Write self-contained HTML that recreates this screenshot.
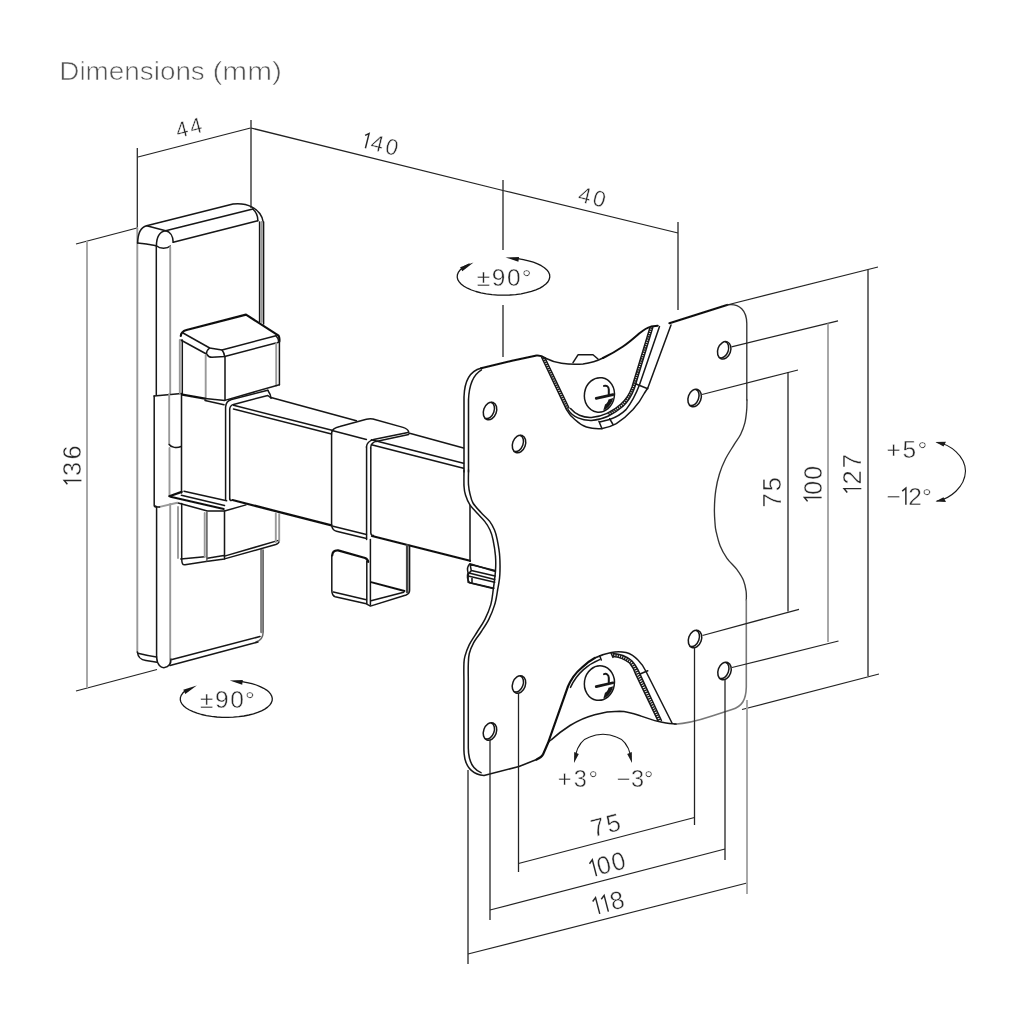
<!DOCTYPE html>
<html><head><meta charset="utf-8">
<style>
html,body{margin:0;padding:0;background:#fff;}
body{width:1024px;height:1024px;overflow:hidden;font-family:"Liberation Sans",sans-serif;}
svg{display:block;}
.k{stroke:#151515;stroke-width:1.5;fill:none;stroke-linecap:round;stroke-linejoin:round;}
.t{stroke:#111;stroke-width:2.2;fill:none;stroke-linecap:round;stroke-linejoin:round;}
.g{stroke:#999;stroke-width:1.9;fill:none;stroke-linecap:round;}
.d{stroke:#222;stroke-width:1.25;fill:none;}
.dg{stroke:#a4a4a4;stroke-width:1.9;fill:none;}
.w{fill:#fff;}
text{font-family:"Liberation Sans",sans-serif;fill:#262626;stroke:#fff;stroke-width:0.45px;}
.n{font-size:22px;text-anchor:middle;letter-spacing:1px;}
</style></head><body>
<svg width="1024" height="1024" viewBox="0 0 1024 1024">
<defs><filter id="bl" x="0" y="0" width="1024" height="1024" filterUnits="userSpaceOnUse"><feGaussianBlur stdDeviation="0.45"/></filter></defs>
<rect width="1024" height="1024" fill="#fff"/>
<g filter="url(#bl)">
<g id="title">
<text x="59.3" y="79.8" font-size="25" style="fill:#525252;stroke-width:0.6px" textLength="145.5" lengthAdjust="spacingAndGlyphs">Dimensions</text>
<text x="212.4" y="79.8" font-size="25" style="fill:#525252;stroke-width:0.6px" textLength="69.5" lengthAdjust="spacingAndGlyphs">(mm)</text>
</g>
<g id="dims-top">
<path class="d" d="M138 157L250.5 128M251 128L503 190.5M503 190.5L678 233"/>
<path class="d" d="M137.3 148V228M251 120V208M503 180V250M503 305V357M678 222V310"/>
</g>
<g id="dims-left">
<path class="d" d="M76 244L137 228M76 691L157 669.5"/>
<path class="dg" d="M87 241V688"/>
</g>
<g id="wallplate">
<path class="g" d="M137.3 228V652"/>
<path class="k" d="M137.6 243C138 232 141 227 146.6 225.7L233 204.1C246 202.5 261 208 263.2 222"/>
<path class="k" d="M146.6 225.7L165.7 230.7L252.9 209"/>
<path class="k" d="M173.2 242.3L257.8 220.7"/>
<path class="k" d="M252.9 209C256 212 258 216 257.8 220.7"/>
<path class="k" d="M156.4 246C156.5 237 160 231.5 165.7 230.7C170 231.5 173 236 173.2 242.3"/>
<path class="k" d="M137.6 243C144 243.5 150 244.5 156.4 245.8C160 249 167 249 170.3 246"/>
<path class="k" d="M156.3 246V395"/>
<path class="g" d="M170.2 247V393"/>
<path class="k" d="M259.6 222V322"/>
<path class="g" d="M261.6 222V322" style="stroke-width:2"/>
<path class="k" d="M263.6 222V324"/>
<!-- collar -->
<path class="k" d="M154 396L181.5 393.6"/>
<path class="k" d="M154.2 396V505.5C154.5 507 155.5 507.2 156.5 506.6"/>
<path class="g" d="M169.2 394V444"/>
<path class="k" d="M169.2 444.5C171 447.5 177 448.5 181 446.5"/>
<path class="k" d="M181.5 394V493"/>
<path class="g" d="M169.5 448V496"/>
<!-- lower -->
<path class="k" d="M156.6 507V657"/>
<path class="g" d="M170.2 504V663"/>
<path class="g" d="M261.4 550V632" style="stroke-width:2.6;stroke:#808080"/>
<path class="k" d="M263.2 550V632C263 638 260 641 256 642" style="stroke:#666"/>
<path class="k" d="M137.4 652C138 658 141 659.8 146 660.6L157 662.2"/>
<path class="k" d="M156.6 657C157 665 161 668 164.5 667.6C168.5 667 171 664 171 659"/>
<path class="k" d="M137.8 653.2C144 654.7 150 656 156.5 657"/>
<path class="k" d="M172 659.6L260 636.5"/>
<path class="k" d="M170 665.5L258 642"/>
</g>
<g id="block">
<!-- top face -->
<path class="t" d="M180.8 336C181 332.5 183 331 186.5 330L246 314.6L278.6 335.7C279.6 337.5 279.6 339.5 279.4 341.5"/>
<path class="k" d="M183 333L209.7 348L222 350L276 335.7"/>
<path class="k" d="M180.8 340L206.4 354C208 356.5 210 357.3 212 357.3L224.6 356.5L278.8 342.3"/>
<path class="k" d="M209.7 348C207.5 349.5 206.5 351.5 206.4 354"/>
<path class="k" d="M222 350C223.6 352 224.5 354 224.6 356.5"/>
<path class="k" d="M276 335.7C277.8 337.5 278.8 339.5 278.8 342.3"/>
<!-- verticals -->
<path class="g" d="M179.8 340V393"/>
<path class="k" d="M182.3 340V394.6"/>
<path class="g" d="M205.7 355V400"/>
<path class="k" d="M225 357V400"/>
<path class="g" d="M276.2 343V385.5"/>
<path class="k" d="M279.4 342V384.7"/>
<!-- bottom -->
<path class="t" d="M182.3 394.6L205 398.6"/>
<path class="k" d="M205 398.6L224.8 400.4L279.4 384.7"/>
<path class="k" d="M205 400.5L224 404.8"/>
</g>
<g id="arm">
<!-- wall-end wrap -->
<path class="k" d="M225.6 500V407C226 402.5 228 400.5 231.5 399.6L267.8 390.3"/>
<path class="k" d="M229.7 499V409C230 406 231.5 405 233.5 404.4L267.8 395.5L271 398"/>
<path class="k" d="M267.8 390.3C269 392 270.5 394 271 398"/>
<!-- arm top lines -->
<path class="k" d="M271 397.5L356.4 420.7M408.7 433L463.5 448"/>
<path class="k" d="M233.5 405.2L332 430.3M371.4 439.8L463.5 463.2"/>
<path class="k" d="M233.5 409L331.5 434M371.4 444.8L463.5 468.2"/>
<!-- arm bottom edge -->
<path class="t" d="M232.5 500L331.5 525.4M372 536L470 560.8"/>
<path class="k" d="M229.7 499C230 500.5 231 501 232.5 500"/>
<!-- sleeve -->
<path class="k" d="M332 430.4L366.4 439.4"/>
<path class="k" d="M331.6 433C331.7 430 333.5 428 339.8 426.5L366.4 419.2C369 418.6 371 418.6 373 419L403 427.4C406.5 428.5 408.3 430 408.7 432"/>
<path class="k" d="M408 432.6L373.5 439.6C369 440.8 366.7 443 366.4 447"/>
<path class="k" d="M408.7 434.6L376 441.4C372.5 442.4 370.8 444.5 370.6 448"/>
<path class="k" d="M331.6 433V525C332 528.5 333.5 530.5 336.5 531.3L366.4 538.6"/>
<path class="k" d="M333 526.2L366.4 534.6"/>
<path class="k" d="M366.6 447V539.5"/>
<path class="k" d="M370.8 448V533C371 535 372 535.6 373.5 535.6"/>
<!-- lower block under arm at wall -->
<path class="k" d="M184 491.2L226.6 500.8"/>
<path class="t" d="M169.3 496.2L181.7 491.9"/>
<path class="t" d="M170.5 496.7L223.8 509" style="stroke-width:1.9"/>
<path class="k" d="M181.4 495.3L224.5 505.5"/>
<path class="k" d="M177.3 502.8L207.4 511L224.5 511L246 504.9"/>
<path class="g" d="M159.6 506.9L177.3 502.8" style="stroke-width:2"/>
<path class="k" d="M155.4 506C156.5 507.3 158 507.3 159.6 506.9"/>
<path class="g" d="M178 507V558"/>
<path class="k" d="M181.7 503.5V558.9C181.8 563 182.6 565.2 185 564.8L206 561.6L224.5 558.9L275.8 544.5C278 543.8 279 542.6 279.2 541"/>
<path class="k" d="M180.8 558.9L204.7 556.8M207.4 558.2L223.8 555.5M224.5 556.1L278.5 540.4"/>
<path class="g" d="M204.7 513V557"/>
<path class="k" d="M206.9 512V561" style="stroke:#555"/>
<path class="k" d="M224.5 511V558.9"/>
<path class="g" d="M275.8 513.5V542"/>
<path class="g" d="M279.2 514V541"/>
</g>
<g id="hook">
<path class="t" d="M332.2 555.5C332.4 552 334.5 550.2 338.1 550.4L365.1 558C367 558.8 368 560 368.2 561.8"/>
<path class="k" d="M331.8 555.5V590.9C332 594 333 596 335.2 596.7L366.3 603.8L370.4 606.1L406.1 595C408.3 594.2 409.5 592.6 409.6 590.5V545.6"/>
<path class="k" d="M333.4 592L366.3 599.7"/>
<path class="k" d="M366.8 561V603.5"/>
<path class="k" d="M370.4 539.5V605"/>
<path class="k" d="M371 600.8L403.8 592.3"/>
<path class="t" style="stroke-width:1.9" d="M371 582.1L404.5 591"/>
<path class="k" style="stroke:#444;stroke-width:2.6" d="M407.2 545.4V592"/>
</g>
<g id="plate">
<!-- outer outline -->
<path class="k" d="M464 472V397C464.500 380 470 371 481 368.300"/>
<path class="t" style="stroke-width:2" d="M481 368.3L512 360.8L536.6 355.6C540 355.4 543 356.5 545 358"/>
<path class="k" d="M545 358C551 361 556 362.500 561.500 363.200C568 364.300 576 364.600 583 364C590 363 597 361 603 358"/>
<path class="t" style="stroke-width:2" d="M603 358C610 354.600 617 350.600 623 346.500C629 342.500 634 338 639.500 333.200C644 329.500 647.500 327.600 651 326.600L657.800 325.700"/>
<path class="t" d="M669.4 323.2L727 305"/>
<path class="k" style="stroke:#333;stroke-width:1.35" d="M727 305C740 303 746.6 311 746.8 323.5V400"/>
<path class="k" style="stroke:#333;stroke-width:1.35" d="M747.0 400.0C746.9 401.8 747.0 407.1 746.6 411.0C746.2 414.9 745.8 419.3 744.8 423.2C743.8 427.1 742.5 430.5 740.7 434.2C738.9 437.9 736.3 441.0 733.8 445.1C731.3 449.2 728.0 454.0 725.6 458.8C723.2 463.6 721.1 468.6 719.5 473.8C717.9 479.0 716.6 484.3 715.8 490.2C714.9 496.1 714.5 503.9 714.4 509.4C714.3 514.9 714.7 519.4 715.0 523.0C715.3 526.6 715.1 527.2 716.0 531.0C716.9 534.8 718.4 541.5 720.2 546.0C722.0 550.5 724.3 554.4 727.0 558.3C729.7 562.2 733.9 565.6 736.6 569.2C739.3 572.9 741.8 576.6 743.4 580.2C745.0 583.9 745.6 587.8 746.1 591.1C746.6 594.4 746.3 598.5 746.3 600.0"/>
<path class="k" style="stroke:#777;stroke-width:1.6" d="M746.3 600V687C746 700 742 706.500 732 709.500L712 716C700 720 686 723.600 674.500 724.200"/>
<!-- thickness line on left -->
<path class="k" d="M468.5 472V400C469 385 473.500 374.500 481.500 369.800"/>
<!-- left edge lower -->
<path class="k" d="M464.0 470.0C464.0 472.7 463.8 481.8 464.0 486.0C464.2 490.2 464.5 491.9 465.5 495.0C466.5 498.1 467.9 501.7 469.8 504.7C471.7 507.7 474.5 510.2 477.0 513.0C479.5 515.8 482.5 518.6 484.7 521.4C486.9 524.2 488.6 527.0 490.0 530.0C491.4 533.0 492.1 535.2 493.0 539.6C493.9 544.0 495.1 551.0 495.5 556.2C495.9 561.4 495.9 565.0 495.5 570.6C495.1 576.2 494.0 584.3 493.2 590.0C492.4 595.7 492.2 599.7 490.8 604.6C489.4 609.5 487.2 614.7 484.9 619.3C482.6 623.9 479.7 627.8 477.1 632.0C474.5 636.2 471.3 640.6 469.3 644.7C467.3 648.8 465.8 653.1 464.9 656.4C464.0 659.6 464.1 660.3 463.9 664.2C463.7 668.1 463.9 677.4 463.9 680.0V749.5C464 764 470 774 484 775.6L519 766.5L536.6 759.5"/>
<path class="k" d="M468.5 470.0C468.5 472.5 468.2 480.8 468.5 484.8C468.8 488.8 469.2 491.0 470.0 494.0C470.8 497.0 471.2 499.9 473.0 503.0C474.8 506.1 478.2 509.4 481.0 512.5C483.8 515.6 487.4 518.5 489.7 521.4C491.9 524.3 493.2 527.0 494.5 530.0C495.8 533.0 496.3 535.2 497.2 539.6C498.1 544.0 499.3 550.3 499.7 556.2C500.1 562.1 500.1 569.4 499.8 575.0C499.5 580.6 498.5 585.1 497.6 590.0C496.8 594.9 496.2 599.7 494.7 604.6C493.2 609.5 491.1 614.7 488.8 619.3C486.5 623.9 483.5 628.1 481.0 632.0C478.5 635.9 475.6 639.1 473.7 642.7C471.8 646.3 470.2 649.9 469.3 653.5C468.4 657.1 468.5 659.8 468.3 664.2C468.1 668.6 468.3 677.4 468.3 680.0V748C468.4 760 472 769 481 772.6"/>
<path class="k" d="M470 505.5V561.3"/>
<!-- tab behind arm -->
<path class="k" d="M470.1 564.4L495.1 570.6M471.3 570.6L495.1 576.1M468.1 576.1L494.7 582.3M468.1 582.3L493.9 588.2M470.1 564.4L471.3 570.6C469.5 572 468.3 574 468.1 576.1V582.3M472 577V583"/>
<!-- bottom edge wave -->
<path class="k" d="M548 743C549 741.5 550 740.5 551.5 739.6C557 734.5 563 730 570 725.5C578 720.5 586 717 594.7 714.7C603 712.4 611 711.3 619.6 711.3C626.5 711.5 633 713.3 639.5 715.5C646 717.8 652 720 657.8 721.3C663 722.6 668 723.6 672.7 723.8L676 724.1"/>
<!-- top bracket -->
<g id="tb">
<path class="k" d="M573 362.7L578 354.8H593L598 359"/>
<path class="k" d="M541.6 357.3L566.5 409.6C569 414 571.5 417 574.8 419.5C578 422.5 582 425.5 586.4 427C591 428.5 596 429 601.3 428.7C606.5 428 611.5 426.5 616.3 423.7C622.5 419.8 628 415 633 409.6C637.5 404.5 641.5 399 644.5 393L647.8 388L671 325"/>
<path class="k" d="M545 358L569 408"/>
<path d="M543.3 357.6L567.7 408.8" style="stroke:#1c1c1c;stroke-width:3.2;stroke-dasharray:1.4 0.9;fill:none"/>
<path class="k" d="M568 409.6C570.5 413.5 574 416.2 578 417.9C582 419.7 586.5 420.5 591.4 420.4C597 420 603 418.6 608 416.2C613.5 413.5 618.5 410.3 623 406.3C628 401.5 632 395 634.5 388L652.8 327.4"/>
<path class="k" d="M570.5 408.5C573 411.5 576 413.8 579.5 415.2C583 416.8 587 417.6 591.4 417.4C597 417 602 415.8 607 413.4C612 411 617 407.8 621 404C626 399.5 629.8 393.5 632 387L650 327.4"/>
<path d="M651.4 327.4L633.3 387.5C630.8 394.3 627 400.2 622 405.2C617.7 409 613 412.2 607.5 414.8" style="stroke:#1c1c1c;stroke-width:2.8;stroke-dasharray:1.4 0.9;fill:none"/>
<path class="k" d="M659.5 326.6L639.5 384.7C636 394 631.5 402.5 626 409.6C621 414.5 615.5 417.5 609.6 419.5L599.7 422"/>
<path class="k" d="M636 384L647.8 388.8"/>
<path class="k" d="M598.9 421.2L602 428.7M609.6 418.7L613 424.5"/>
<g id="scr"><ellipse class="k" cx="599.4" cy="394.9" rx="15" ry="17.3" transform="rotate(9 599.4 394.9)"/>
<path d="M596.2 398.4L613 394.6" style="stroke:#151515;stroke-width:2.7;fill:none;stroke-linecap:round"/>
<path d="M604 385.900C606.500 385.100 608.700 386.500 608.800 389.500V394.500" style="stroke:#151515;stroke-width:2;fill:none;stroke-linecap:round"/>
<path d="M605 404.600L603.300 410.300C608.200 408.500 611.800 404 613.200 398L608.500 399.500C608 402 606.800 403.600 605 404.600Z" fill="#151515"/></g>
</g>
<!-- bottom bracket -->
<g id="bb">
<path class="t" d="M536.6 759.5C540 758 542 756.5 543 754.5L548 743L568 686.4C571 679.5 575.5 673 581.4 668C585.5 664 590 660.5 594.7 658"/>
<path class="k" d="M594.7 658C600 655.3 605.5 653.4 611.3 652.4C616 651.7 621 651.7 626 652.4C630.5 653.5 634.5 656.3 638 660C641.5 663.5 644 667.3 646 671.5L672 723"/>
<path class="k" d="M570.5 687.4C573.5 680.5 578 674.5 583.5 669.6C588 665.5 593 662.3 599.7 659.6"/>
<path class="k" d="M599.7 655.7L601.3 660M611 653L613 657.4"/>
<path class="k" d="M613 656.6C619 657 625 659.5 629.6 663C632.5 666.5 634.6 670.5 636 675L657.8 720.5"/>
<path class="k" d="M613 653.6C620 654 626.5 656.5 631.5 660.5C635 664 637.5 668.5 639.5 673L661.4 720.5"/>
<path d="M613 655.2C619.5 655.6 625.7 658 630.5 661.8C633.7 665.3 636 669.5 637.8 674L659.6 720.5" style="stroke:#1c1c1c;stroke-width:3.4;stroke-dasharray:1.4 0.9;fill:none"/>
<path class="k" d="M640 674L647.8 670.7"/>
<use href="#scr" transform="translate(0 288.2)"/>
</g>
<!-- holes -->
<defs><g id="h"><ellipse class="k" cx="0" cy="0" rx="6.4" ry="9"/><path class="k" d="M-1.6 -8.4A5.6 8.4 0 0 1 -1.6 8.4"/></g></defs>
<use href="#h" transform="translate(724.2 350.3) rotate(20)"/>
<use href="#h" transform="translate(694.6 398) rotate(20)"/>
<use href="#h" transform="translate(490 411) rotate(20)"/>
<use href="#h" transform="translate(519 444) rotate(20)"/>
<use href="#h" transform="translate(490 731.5) rotate(20)"/>
<use href="#h" transform="translate(519 684.5) rotate(20)"/>
<use href="#h" transform="translate(695 639) rotate(20)"/>
<use href="#h" transform="translate(724.5 671) rotate(20)"/>
<!-- tab behind arm -->
<path class="k" d="M469.8 563.7L494.7 571.2M468 572.8L494.7 579.5M469.5 582.8L493 588.6M469.8 563.7C467.5 566 467 569 468 572.8C467 576 467.5 580 469.5 582.8"/>
</g>
<g id="dims-right">
<path class="d" d="M727 305L878 267M731.5 346.8L838 320.8M702 394.5L798 370"/>
<path class="d" d="M702.5 635.5L799 609.3M732 667.5L838.5 641M742 709.5L879 674"/>
<path class="d" d="M868 270V676M788 372V611.5"/>
<path class="dg" d="M828 323.5V642"/>
<path class="k" d="M937 442.5C950 444 965 456 965.5 471C965 487 950 499 937 501" style="stroke-width:1.1"/>
<path d="M935.5 442L946 441.8L943.5 446.5Z M935.5 501.5L946 502L943.5 497.2Z" fill="#1c1c1c"/>
</g>
<g id="dims-bottom">
<path class="d" d="M468 954L747 883M490 910L725 849M518.5 863.5L694.5 817.5"/>
<path class="d" d="M468 770V964M490 740V920M518.5 693V872M694.5 647V825M725 679V860"/>
<path class="dg" d="M747 700V894"/>
<path class="k" d="M575.5 755C578 745 583 739 589.7 737C594 735 598.5 734.3 603 734.3C607.5 734.3 612 735 616.3 737C623 739 628 745 630.5 755" style="stroke-width:1.1"/>
<path d="M574 763L574.2 752L578.8 754Z M632 763L631.8 752L627.2 754Z" fill="#1c1c1c"/>
</g>
<g id="labels">
<g transform="translate(188.7 127.6) rotate(-14.5)"><text font-size="22" x="-13.25 1.16" y="7.59">44</text></g>
<g transform="translate(380.8 144.1) rotate(14)"><text font-size="22.5" x="-9.65 5.37" y="7.76">40</text><path d="M-13.93 7.76V-7.36L-17.30 -4.61" fill="none" stroke="#262626" stroke-width="1.45" stroke-linejoin="miter"/></g>
<g transform="translate(592 196.8) rotate(13.7)"><text font-size="22.5" x="-13.52 1.37" y="7.76">40</text></g>
<g transform="translate(72.6 465.2) rotate(-90)"><text font-size="25.5" x="-10.73 5.74" y="8.80">36</text><path d="M-15.21 8.80V-8.40L-19.04 -5.23" fill="none" stroke="#262626" stroke-width="1.45" stroke-linejoin="miter"/></g>
<g transform="translate(772 492.2) rotate(-90)"><text font-size="25.5" x="-15.31 0.89" y="8.80">75</text></g>
<g transform="translate(812.8 484) rotate(-90)"><text font-size="25.5" x="-11.02 3.96" y="8.80">00</text><path d="M-13.56 8.80V-8.40L-17.39 -5.23" fill="none" stroke="#262626" stroke-width="1.45" stroke-linejoin="miter"/></g>
<g transform="translate(852.5 473.8) rotate(-90)"><text font-size="25.5" x="-10.72 5.50" y="8.80">27</text><path d="M-14.81 8.80V-8.40L-18.64 -5.23" fill="none" stroke="#262626" stroke-width="1.45" stroke-linejoin="miter"/></g>
<g transform="translate(605.7 825.2) rotate(-14.6)"><text font-size="25" x="-15.03 0.90" y="8.62">75</text></g>
<g transform="translate(607.6 864.3) rotate(-14.6)"><text font-size="25" x="-10.80 4.22" y="8.62">00</text><path d="M-13.65 8.62V-8.22L-17.40 -5.12" fill="none" stroke="#262626" stroke-width="1.45" stroke-linejoin="miter"/></g>
<g transform="translate(608.5 902.7) rotate(-14.6)"><text font-size="25" x="1.93" y="8.62">8</text><path d="M-11.25 8.62V-8.22L-15.00 -5.12M-2.37 8.62V-8.22L-6.12 -5.12" fill="none" stroke="#262626" stroke-width="1.45" stroke-linejoin="miter"/></g>
<g transform="translate(906.8 449.5) rotate(0)"><text font-size="24.5" x="-20.25 -4.27 10.72" y="8.45">+5°</text></g>
<g transform="translate(909 496.2) rotate(0)"><text font-size="24.5" x="-22.46 -0.81 12.92" y="8.45">−2°</text><path d="M-3.13 8.45V-8.05L-6.81 -5.02" fill="none" stroke="#262626" stroke-width="1.45" stroke-linejoin="miter"/></g>
<g transform="translate(577.7 779) rotate(0)"><text font-size="23.5" x="-19.85 -4.05 10.71" y="8.11">+3°</text></g>
<g transform="translate(635 779) rotate(0)"><text font-size="23.5" x="-18.16 -4.05 9.01" y="8.11">−3°</text></g>
<g transform="translate(503.8 277.2) rotate(0)"><text font-size="24.5" x="-27.08 -11.94 3.16 17.97" y="8.45">±90°</text></g>
<g transform="translate(227 699.5) rotate(0)"><text font-size="24.5" x="-27.13 -11.96 3.18 18.02" y="8.45">±90°</text></g>
</g>
<g id="rot">
<path class="k" style="stroke-width:1.3" d="M517.8 258.7L523.3 259.6L528.5 260.8L533.3 262.2L537.6 263.8L541.3 265.7L544.4 267.7L546.9 269.9L548.6 272.2L549.6 274.6L549.8 277.0L549.2 279.4L548.0 281.7L545.9 284.0L543.2 286.1L539.9 288.1L535.9 289.9L531.4 291.4L526.4 292.7L521.1 293.8L515.5 294.6L509.7 295.0L503.7 295.2L497.8 295.1L492.0 294.6L486.3 293.9L481.0 292.8L476.0 291.5L471.5 290.0L467.4 288.2L464.0 286.3L461.3 284.2L459.2 281.9L457.8 279.6L457.2 277.2L457.4 274.8L458.3 272.4L460.0 270.1L462.4 267.9L465.4 265.9L469.1 264.0"/>
<path fill="#151515" d="M473.5 262.6L462.3 271.2L460.1 267.2ZM505.5 257.4L519.0 257.1L518.4 261.7Z"/>
<path class="k" style="stroke-width:1.3" d="M242.0 681.7L247.1 682.6L251.9 683.7L256.3 685.0L260.2 686.6L263.7 688.3L266.6 690.1L269.0 692.1L270.7 694.2L271.8 696.4L272.3 698.6L272.1 700.8L271.2 703.0L269.7 705.1L267.6 707.1L264.8 709.1L261.5 710.8L257.7 712.4L253.5 713.8L248.9 715.0L243.9 716.0L238.7 716.7L233.3 717.2L227.8 717.4L222.3 717.3L216.8 717.0L211.5 716.4L206.4 715.6L201.6 714.5L197.1 713.2L193.1 711.7L189.5 710.0L186.5 708.2L184.0 706.2L182.1 704.1L180.9 702.0L180.3 699.8L180.4 697.6L181.2 695.4L182.6 693.3L184.6 691.2"/>
<path fill="#151515" d="M196.8 685.6L185.3 694.0L183.3 689.8ZM229.8 680.5L242.8 680.1L242.2 684.7Z"/>
</g>
</g>
</svg>
</body></html>
